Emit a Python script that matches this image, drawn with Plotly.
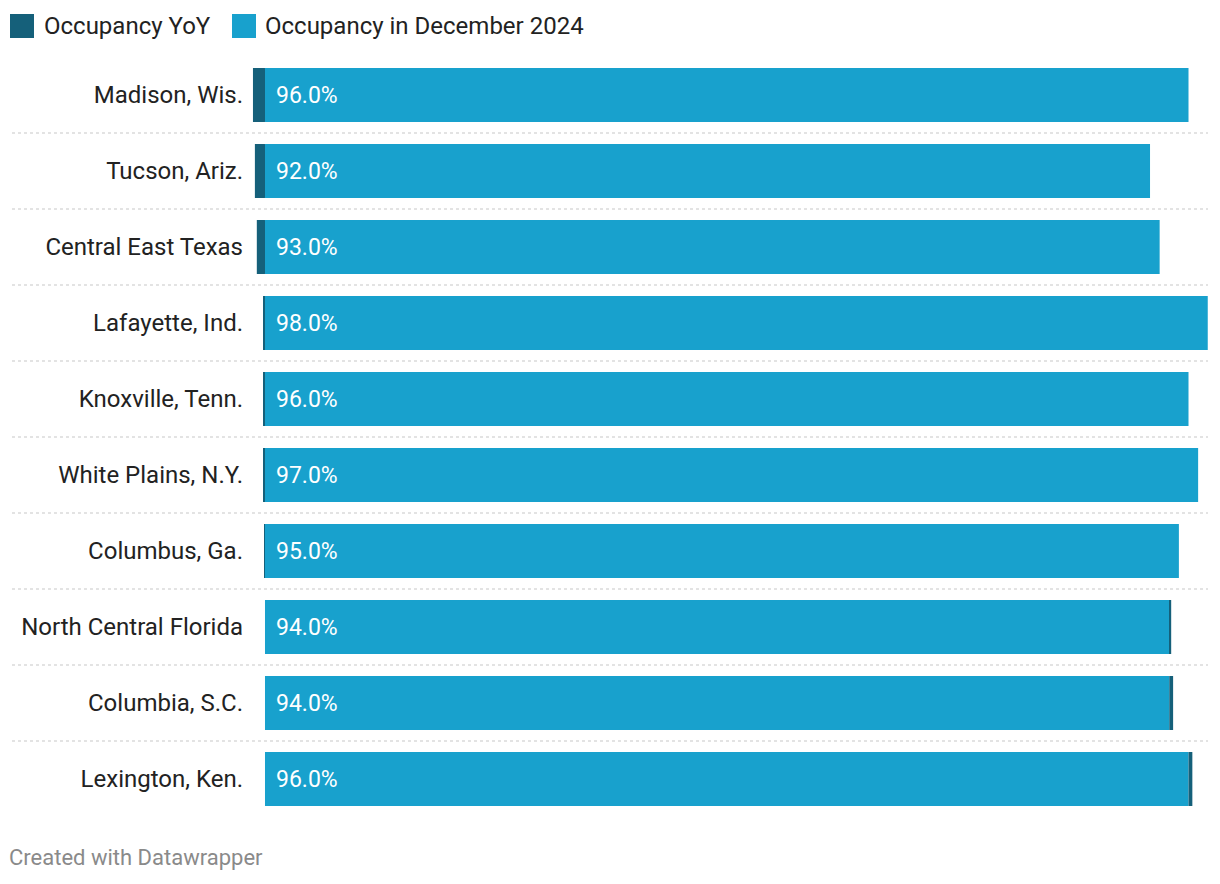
import plotly.graph_objects as go

categories = ["Madison, Wis.", "Tucson, Ariz.", "Central East Texas", "Lafayette, Ind.",
              "Knoxville, Tenn.", "White Plains, N.Y.", "Columbus, Ga.",
              "North Central Florida", "Columbia, S.C.", "Lexington, Ken."]
occupancy_dec_2024 = [96.0, 92.0, 93.0, 98.0, 96.0, 97.0, 95.0, 94.0, 94.0, 96.0]
occupancy_yoy = [-1.25, -1.05, -0.85, -0.2, -0.2, -0.2, -0.05, 0.2, 0.4, 0.4]

DARK = "#15607a"
LIGHT = "#18a1cd"
FONT = "Roboto"

OFF = 8  # page body margin
W, H = 1220 - OFF, 884 - OFF
L, R, T, B = 252 - OFF, 12, 57 - OFF, 67
px_per_unit = 9.62
xmin = -1.35
xmax = xmin + (W - L - R) / px_per_unit

fig = go.Figure()
fig.add_trace(go.Bar(y=categories, x=occupancy_dec_2024, orientation="h",
                     marker=dict(color=LIGHT, line=dict(width=0)),
                     name="Occupancy in December 2024", hoverinfo="x+y"))
fig.add_trace(go.Bar(y=categories, x=occupancy_yoy, orientation="h",
                     marker=dict(color=DARK, line=dict(width=0)),
                     name="Occupancy YoY", hoverinfo="x+y"))

annotations = []
for c, v in zip(categories, occupancy_dec_2024):
    annotations.append(dict(x=0, y=c, xref="x", yref="y", text=f"{v:.1f}%",
                            showarrow=False, xanchor="left", xshift=9,
                            font=dict(family=FONT, size=23, color="white")))

def px_to_paper_x(px):
    return (px - OFF - L) / (W - L - R)

def px_to_paper_y(py):
    return 1 - (py - OFF - T) / (H - T - B)

shapes = []
for i in range(len(categories) - 1):
    shapes.append(dict(type="line", xref="paper", yref="y", x0=px_to_paper_x(12), x1=1,
                       y0=i + 0.5, y1=i + 0.5,
                       line=dict(color="#c8c8c8", width=1.2, dash="dot")))

legend_items = [("Occupancy YoY", DARK, 10, 42), ("Occupancy in December 2024", LIGHT, 232, 263)]
for label, col, sx, tx in legend_items:
    shapes.append(dict(type="rect", xref="paper", yref="paper",
                       x0=px_to_paper_x(sx), x1=px_to_paper_x(sx + 24),
                       y0=px_to_paper_y(38), y1=px_to_paper_y(14),
                       fillcolor=col, line=dict(width=0)))
    annotations.append(dict(x=px_to_paper_x(tx), y=px_to_paper_y(26), xref="paper", yref="paper",
                            text=label, showarrow=False, xanchor="left", yanchor="middle",
                            font=dict(family=FONT, size=24, color="#222222")))

annotations.append(dict(x=px_to_paper_x(7), y=px_to_paper_y(858), xref="paper", yref="paper",
                        text="Created with Datawrapper", showarrow=False,
                        xanchor="left", yanchor="middle",
                        font=dict(family=FONT, size=22, color="#8a8a8a")))

fig.update_layout(
    width=W, height=H,
    margin=dict(l=L, r=R, t=T, b=B, pad=0),
    barmode="relative", bargap=0.29,
    plot_bgcolor="white", paper_bgcolor="white",
    showlegend=False,
    font=dict(family=FONT, size=20, color="#222222"),
    xaxis=dict(range=[xmin, xmax], visible=False, fixedrange=True),
    yaxis=dict(categoryorder="array", categoryarray=categories,
               range=[len(categories) - 0.5, -0.5], showgrid=False, zeroline=False,
               showline=False, ticks="", ticklabelstandoff=8,
               tickfont=dict(family=FONT, size=24, color="#222222"), fixedrange=True),
    shapes=shapes, annotations=annotations,
)

fig.write_html("out.html")
